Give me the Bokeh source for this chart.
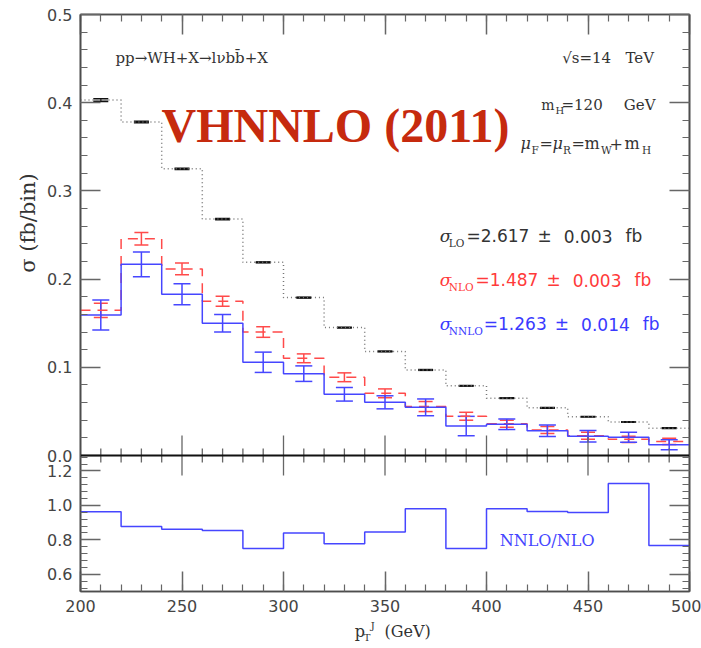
import numpy as np
from bokeh.plotting import figure
from bokeh.layouts import column, row
from bokeh.models import (Range1d, LinearAxis, FixedTicker, CustomJSTickFormatter,
                          Label, Span, Whisker, TeeHead, ColumnDataSource)
from bokeh.embed import file_html
from bokeh.resources import INLINE

# ---------------- data ----------------
pt_edges = [200, 220, 240, 260, 280, 300, 320, 340, 360, 380, 400, 420, 440, 460, 480, 500]
lo       = [0.403, 0.378, 0.325, 0.268, 0.219, 0.179, 0.145, 0.118, 0.097, 0.079, 0.065, 0.054, 0.044, 0.038, 0.031]
lo_err   = [0.0015, 0.0008, 0.0007, 0.0006, 0.0005, 0.0005, 0.0004, 0.0004, 0.0004, 0.0003, 0.0003, 0.0003, 0.0003, 0.0003, 0.0003]
nlo      = [0.1646, 0.2458, 0.2115, 0.1748, 0.1400, 0.1102, 0.0887, 0.0705, 0.0555, 0.0445, 0.0360, 0.0290, 0.0225, 0.0183, 0.0160]
nlo_err  = [0.0080, 0.0070, 0.0067, 0.0057, 0.0060, 0.0050, 0.0050, 0.0050, 0.0057, 0.0045, 0.0040, 0.0040, 0.0040, 0.0035, 0.0035]
nnlo     = [0.1593, 0.2168, 0.1828, 0.1499, 0.1057, 0.0928, 0.0694, 0.0603, 0.0546, 0.0334, 0.0354, 0.0281, 0.0218, 0.0206, 0.0122]
nnlo_err = [0.0170, 0.0140, 0.0120, 0.0100, 0.0115, 0.0088, 0.0077, 0.0074, 0.0095, 0.0110, 0.0060, 0.0066, 0.0066, 0.0057, 0.0057]
ratio    = [0.963, 0.878, 0.861, 0.855, 0.750, 0.840, 0.778, 0.846, 0.980, 0.750, 0.980, 0.965, 0.959, 1.127, 0.767]

x_major = [200, 250, 300, 350, 400, 450, 500]
y_major = [0.0, 0.1, 0.2, 0.3, 0.4, 0.5]
r_major = [0.6, 0.8, 1.0, 1.2]

# ---------------- layout ----------------
W, H = 701, 648
LW = 44                                  # left strip (y title)
MAIN_H = 618                             # main figure height; x-title strip below
FL, FR, FT, FB = 80, 689, 14, 591        # frame edges in window px
SPLIT = 455                              # boundary between panels (px)
Y_TOP = 0.5
m0 = -Y_TOP * (FB - SPLIT) / (SPLIT - FT)    # main range bottom
R0, R_SPLIT = 0.5, 1.29                       # ratio at bottom / at split
R1 = R0 + (R_SPLIT - R0) * (FB - FT) / (FB - SPLIT)
BASE_SHIFT = 0.38                        # alphabetic-baseline correction (em)
GRAY = "#333333"
BLUE = "#4646ff"
RED = "#ff4a4a"

def to_main(r):
    return m0 + (r - R0) * (0 - m0) / (R_SPLIT - R0)

def dx(px):
    return 200 + (px - FL) * 300.0 / (FR - FL)

def dy(py):
    return (SPLIT - py) * Y_TOP / (SPLIT - FT)

p = figure(width=W - LW, height=MAIN_H, x_range=Range1d(200, 500), y_range=Range1d(m0, Y_TOP),
           output_backend="svg", toolbar_location=None,
           x_axis_type=None, y_axis_type=None,
           min_border_left=FL - LW, min_border_right=W - FR,
           min_border_top=FT, min_border_bottom=MAIN_H - FB)
p.extra_y_ranges = {"ratio": Range1d(R0, R1)}
p.xgrid.visible = False
p.ygrid.visible = False
p.outline_line_color = "#4d4d4d"
p.outline_line_width = 1.6
p.background_fill_color = "white"
p.border_fill_color = "white"

AX_COL = "#4d4d4d"
TK_COL = "#666666"

xt = FixedTicker(ticks=x_major, minor_ticks=list(range(200, 501, 10)))
y_min_main = [round(v, 3) for v in np.arange(0.0, 0.5001, 0.02)]
r_minor = [round(v, 3) for v in np.arange(0.52, 1.2801, 0.04)]
yt = FixedTicker(ticks=y_major + [to_main(r) for r in r_major],
                 minor_ticks=y_min_main + [to_main(r) for r in r_minor])

fmt_left = CustomJSTickFormatter(args=dict(m0=m0, r0=R0, r1=R_SPLIT), code="""
if (tick > -1e-9) { return tick.toFixed(1); }
const r = r0 + (tick - m0) * (r1 - r0) / (0 - m0);
return r.toFixed(1);
""")
fmt_none = CustomJSTickFormatter(code="return '';")

def style_axis(ax, labels=True):
    ax.axis_line_color = AX_COL
    ax.axis_line_width = 1.6
    ax.major_tick_line_color = TK_COL
    ax.minor_tick_line_color = TK_COL
    ax.major_tick_line_width = 1.5
    ax.minor_tick_line_width = 1.2
    ax.major_tick_in = 20
    ax.major_tick_out = 0
    ax.minor_tick_in = 7
    ax.minor_tick_out = 0
    if labels:
        ax.major_label_text_font = "DejaVu Sans"
        ax.major_label_text_font_size = "16px"
        ax.major_label_text_color = "#444444"
    else:
        ax.major_label_text_font_size = "0px"
        ax.major_label_standoff = 0

ax_b = LinearAxis(ticker=xt)
style_axis(ax_b)
ax_b.major_label_standoff = 8
ax_t = LinearAxis(ticker=xt, formatter=fmt_none)
style_axis(ax_t, labels=False)
ax_l = LinearAxis(ticker=yt, formatter=fmt_left)
style_axis(ax_l)
ax_l.major_label_standoff = 8
ax_r = LinearAxis(ticker=yt, formatter=fmt_none)
style_axis(ax_r, labels=False)
p.add_layout(ax_b, "below")
p.add_layout(ax_t, "above")
p.add_layout(ax_l, "left")
p.add_layout(ax_r, "right")

# boundary line between the two panels and its ticks
p.add_layout(Span(location=0, dimension="width", line_color="#111111", line_width=2))
mid_ticks = np.array(list(range(210, 500, 10)), dtype=float)
is_major = np.array([t % 50 == 0 for t in mid_ticks])
tick_len = np.where(is_major, 20, 7) * Y_TOP / (SPLIT - FT)
p.segment(x0=mid_ticks, x1=mid_ticks, y0=-tick_len, y1=tick_len,
          line_color=TK_COL, line_width=1.3)

# ---------------- histograms ----------------
edges = np.array(pt_edges, dtype=float)
centers = 0.5 * (edges[:-1] + edges[1:])

def step_y(vals):
    return list(vals) + [vals[-1]]

p.step(x=edges, y=step_y(lo), mode="after", line_color="#777777", line_width=1.5,
       line_dash="1 3")
p.step(x=edges, y=step_y(nlo), mode="after", line_color=RED, line_width=1.5,
       line_dash="10 7")
p.step(x=edges, y=step_y(nnlo), mode="after", line_color=BLUE, line_width=1.5)

def errbars(vals, errs, color, head, lw):
    src = ColumnDataSource(dict(x=centers,
                                lo=np.array(vals) - np.array(errs),
                                hi=np.array(vals) + np.array(errs)))
    w = Whisker(source=src, base="x", lower="lo", upper="hi", dimension="height",
                line_color=color, line_width=lw,
                lower_head=TeeHead(size=head, line_color=color, line_width=lw),
                upper_head=TeeHead(size=head, line_color=color, line_width=lw))
    p.add_layout(w)

errbars(lo, lo_err, "#111111", 15, 1.6)
errbars(nlo, nlo_err, RED, 14, 1.5)
errbars(nnlo, nnlo_err, BLUE, 17, 1.5)

# ratio panel
p.step(x=edges, y=step_y(ratio), mode="after", line_color=BLUE, line_width=1.5,
       y_range_name="ratio")

# ---------------- texts inside the frame ----------------
def lab(text, px, py, size, color=GRAY, font="DejaVu Serif", align="left",
        style="normal"):
    # px: left (or right) edge, py: alphabetic baseline, both in window pixels
    p.add_layout(Label(x=dx(px), y=dy(py - BASE_SHIFT * size), text=text, text_font=font,
                       text_font_size=f"{size}px", text_color=color,
                       text_align=align, text_baseline="alphabetic",
                       text_font_style=style))

lab("pp\u2192WH+X\u2192l\u03bdbb\u0304+X", 115, 63.3, 15)
lab("\u221as=14", 561.7, 62.7, 15)
lab("TeV", 625, 62.7, 15)
lab("m", 540.7, 110, 14)
lab("H", 555, 113.5, 10)
lab("=120", 561, 110, 15)
lab("GeV", 623.3, 110, 15)
lab("\u03bc", 520, 149.3, 16, style="italic")
lab("F", 531, 153, 10.5)
lab("=", 539, 149.3, 16)
lab("\u03bc", 552, 149.3, 16, style="italic")
lab("R", 562.5, 153, 10.5)
lab("=", 571, 149.3, 16)
lab("m", 584, 149.3, 16)
lab("W", 600.5, 153, 10.5)
lab("+", 609, 149.3, 16)
lab("m", 624, 149.3, 16)
lab("H", 641.5, 153, 10.5)

lab("VHNNLO (2011)", 161, 143.3, 48, "#c62a0e", font="Liberation Serif", style="bold")

def sigma_line(sub, vals, shift, py, color):
    lab("\u03c3", 439.3, py, 17, color, style="italic")
    lab(sub, 448.3, py + 4, 10.5, color)
    lab("=" + vals[0], 466 + shift, py, 17, color, font="DejaVu Sans")
    lab("\u00b1", 537 + shift, py, 17, color, font="DejaVu Sans")
    lab(vals[1], 563.3 + shift, py, 17, color, font="DejaVu Sans")
    lab("fb", 625 + shift, py, 17, color, font="DejaVu Sans")

sigma_line("LO", ("2.617", "0.003"), 0.0, 242.3, GRAY)
sigma_line("NLO", ("1.487", "0.003"), 9.0, 286.0, "#ff3a3a")
sigma_line("NNLO", ("1.263", "0.014"), 17.3, 330.0, "#3a3aff")

lab("NNLO/NLO", 594, 546, 16, BLUE, align="right")

# ---------------- axis-title strips (window-pixel coordinates) ----------------
def strip(w, h, x0, y0):
    f = figure(width=w, height=h, x_range=Range1d(x0, x0 + w), y_range=Range1d(y0 + h, y0),
               output_backend="svg", toolbar_location=None,
               x_axis_type=None, y_axis_type=None, min_border=0)
    f.outline_line_color = None
    f.xgrid.visible = False
    f.ygrid.visible = False
    f.border_fill_color = "white"
    f.background_fill_color = "white"
    return f

left = strip(LW, H, 0, 0)
left.add_layout(Label(x=35 - BASE_SHIFT * 21, y=222.5, text="\u03c3 (fb/bin)",
                      text_font="DejaVu Serif", text_font_size="21px", text_color=GRAY,
                      text_align="center", text_baseline="alphabetic", angle=np.pi / 2))

bottom = strip(W - LW, H - MAIN_H, LW, MAIN_H)

def blab(text, px, py, size):
    bottom.add_layout(Label(x=px, y=py - BASE_SHIFT * size, text=text,
                            text_font="DejaVu Serif", text_font_size=f"{size}px",
                            text_color=GRAY, text_align="left",
                            text_baseline="alphabetic"))

blab("p", 340, 637, 16)
blab("T", 349.5, 641, 10)
blab("J", 357, 629, 10)
blab("(GeV)", 372, 637, 16)

layout = row(left, column(p, bottom, spacing=0), spacing=0)
open("out.html", "w").write(file_html(layout, INLINE))
